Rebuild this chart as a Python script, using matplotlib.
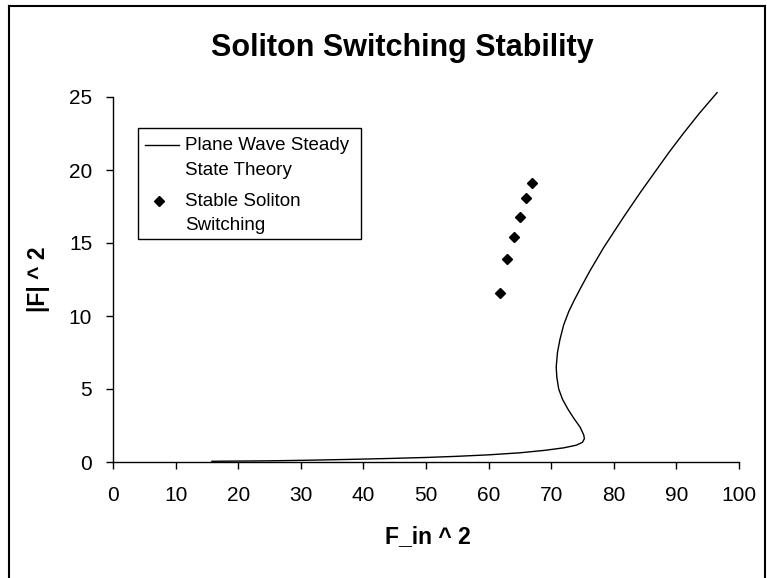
import matplotlib
matplotlib.use("Agg")
from matplotlib import pyplot as plt
from matplotlib.lines import Line2D
from matplotlib.patches import Rectangle

# plane wave steady state curve
fin_sq = [15.8, 25.0, 31.0, 38.0, 44.0, 50.0, 55.0, 60.0, 65.0, 69.0, 72.0, 74.0,
          75.0, 75.3, 75.2, 74.6, 73.6, 72.7, 71.8, 71.2, 70.9, 70.8, 71.0, 71.4,
          72.0, 72.8, 73.7, 74.8, 76.2, 78.4, 81.6, 84.3, 86.8, 88.8, 91.1, 93.7,
          96.5]
f_sq = [0.05, 0.08, 0.12, 0.18, 0.24, 0.31, 0.39, 0.49, 0.63, 0.80, 0.97, 1.15,
        1.35, 1.6, 1.85, 2.4, 3.0, 3.6, 4.3, 5.0, 5.8, 6.5, 7.5, 8.4,
        9.4, 10.3, 11.1, 12.0, 13.1, 14.7, 16.8, 18.5, 20.0, 21.2, 22.5, 23.9,
        25.3]

# stable soliton switching points
sol_x = [61.8, 62.9, 64.0, 65.0, 66.0, 67.0]
sol_y = [11.6, 13.9, 15.4, 16.8, 18.1, 19.1]

legend_labels = ["Plane Wave Steady\nState Theory", "Stable Soliton\nSwitching"]
x_ticks = list(range(0, 101, 10))
y_ticks = list(range(0, 26, 5))

W, H = 767, 578
plt.rcParams['font.family'] = ['Liberation Sans', 'DejaVu Sans']


def fx(px):
    return px / W


def fy(py):
    return 1 - py / H


fig = plt.figure(figsize=(W / 100, H / 100), dpi=100)
ax = fig.add_axes([fx(113), fy(462), (739 - 113) / W, (462 - 97) / H])

ax.plot(fin_sq, f_sq, color='black', lw=1.0, clip_on=False)
ax.plot(sol_x, sol_y, ls='none', marker='D', ms=4.8, color='black', clip_on=False)

ax.set_xlim(0, 100)
ax.set_ylim(0, 25)
ax.set_xticks(x_ticks)
ax.set_yticks(y_ticks)
for s in ['top', 'right']:
    ax.spines[s].set_visible(False)
for s in ['left', 'bottom']:
    ax.spines[s].set_linewidth(1.0)
ax.tick_params(axis='both', direction='out', length=5, width=1.0, labelsize=15,
               colors='black')
ax.tick_params(axis='x', pad=12.5)
ax.tick_params(axis='y', pad=10)

# titles
fig.text(fx(402), fy(48), "Soliton Switching Stability", fontsize=22,
         fontweight='bold', ha='center', va='center')
fig.text(fx(428), fy(537), "F_in ^ 2", fontsize=16.5, fontweight='bold',
         ha='center', va='center')
fig.text(fx(38), fy(279), "|F| ^ 2", fontsize=16.5, fontweight='bold',
         ha='center', va='center', rotation=90)

# legend box drawn by hand
fig.patches.append(Rectangle((fx(138), fy(239)), (361 - 138) / W, (239 - 128) / H,
                             transform=fig.transFigure, fill=False,
                             edgecolor='black', lw=1.0))
fig.lines.append(Line2D([fx(145), fx(179)], [fy(145), fy(145)],
                        transform=fig.transFigure, color='black', lw=1.0))
fig.lines.append(Line2D([fx(159)], [fy(201)], transform=fig.transFigure,
                        ls='none', marker='D', ms=4.8, color='black'))
for lab, y0 in zip(legend_labels, [146, 201]):
    for k, line in enumerate(lab.split("\n")):
        fig.text(fx(185), fy(y0 + 24 * k), line, fontsize=13.5,
                 ha='left', va='center')

# chart frame
fig.lines.append(Line2D([fx(9), fx(9)], [fy(6), 0], transform=fig.transFigure,
                        color='black', lw=1.5))
fig.lines.append(Line2D([fx(9), fx(765)], [fy(6), fy(6)], transform=fig.transFigure,
                        color='black', lw=1.5))
fig.lines.append(Line2D([fx(765), fx(765)], [fy(6), 0], transform=fig.transFigure,
                        color='black', lw=1.5))

fig.savefig("out.png", dpi=100)
